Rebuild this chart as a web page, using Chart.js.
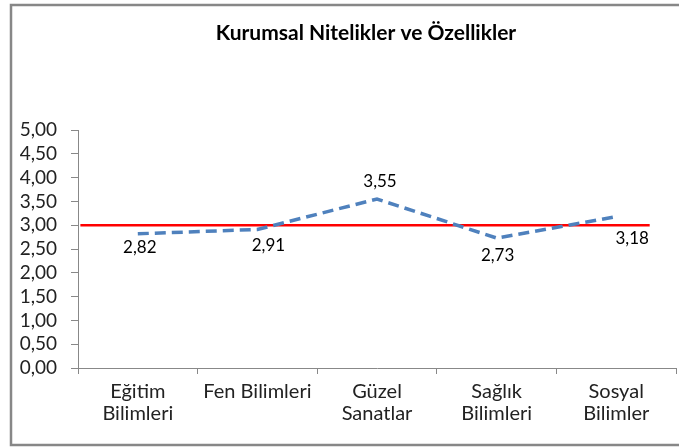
<!DOCTYPE html>
<html>
<head>
<meta charset="utf-8">
<script src="https://cdn.jsdelivr.net/npm/chart.js@4.4.1/dist/chart.umd.min.js"></script>
<style>
html, body { margin: 0; padding: 0; background: #fff; }
#wrap { width: 679px; height: 448px; }
</style>
</head>
<body>
<div id="wrap"><canvas id="myChart" width="679" height="448"></canvas></div>
<script>
// data
var categories = [["Eğitim", "Bilimleri"], "Fen Bilimleri", ["Güzel", "Sanatlar"], ["Sağlık", "Bilimleri"], ["Sosyal", "Bilimler"]];
var scores = [2.82, 2.91, 3.55, 2.73, 3.18];
var referenceLevel = 3.00;
var yTicks = [0, 0.5, 1, 1.5, 2, 2.5, 3, 3.5, 4, 4.5, 5];
var chartTitle = "Kurumsal Nitelikler ve Özellikler";

var FONT = "Lato, 'Open Sans', sans-serif";

function trNum(v) {
    return v.toFixed(2).replace('.', ',');
}

// frame + title
var framePlugin = {
    id: 'frame',
    beforeDraw: function(chart) {
        var ctx = chart.ctx;
        ctx.save();
        ctx.fillStyle = '#fff';
        ctx.fillRect(0, 0, chart.width, chart.height);
        ctx.strokeStyle = '#878787';
        ctx.lineWidth = 2.5;
        ctx.strokeRect(11, 5, chart.width + 20, chart.height - 8);
        ctx.fillStyle = '#000';
        ctx.font = 'bold 21px ' + FONT;
        ctx.textAlign = 'center';
        ctx.textBaseline = 'middle';
        ctx.fillText(chartTitle, 366, 33);
        ctx.restore();
    }
};

// red reference line at 3,00
var refLinePlugin = {
    id: 'refLine',
    beforeDatasetsDraw: function(chart) {
        var x = chart.scales.x, y = chart.scales.y;
        var yy = y.getPixelForValue(referenceLevel);
        var ctx = chart.ctx;
        ctx.save();
        ctx.strokeStyle = '#ff0000';
        ctx.lineWidth = 2.5;
        ctx.beginPath();
        ctx.moveTo(x.getPixelForValue(-0.48), yy);
        ctx.lineTo(x.getPixelForValue(4.28), yy);
        ctx.stroke();
        ctx.restore();
    }
};

// value labels next to the points
var labelShift = [[2, 14], [11, 16], [3, -18], [1, 17], [16, 22]];
var valueLabelPlugin = {
    id: 'valueLabels',
    afterDatasetsDraw: function(chart) {
        var ctx = chart.ctx;
        var meta = chart.getDatasetMeta(0);
        ctx.save();
        ctx.fillStyle = '#000';
        ctx.font = '17px ' + FONT;
        ctx.textAlign = 'center';
        ctx.textBaseline = 'middle';
        meta.data.forEach(function(pt, i) {
            ctx.fillText(trNum(scores[i]), pt.x + labelShift[i][0], pt.y + labelShift[i][1]);
        });
        ctx.restore();
    }
};

var ctx = document.getElementById('myChart').getContext('2d');
var chart = new Chart(ctx, {
    type: 'line',
    data: {
        labels: categories,
        datasets: [{
            label: 'Kurumsal',
            data: scores,
            borderColor: '#4f81bd',
            borderWidth: 3.5,
            borderDash: [11, 6],
            pointRadius: 0,
            tension: 0,
            fill: false
        }]
    },
    options: {
        responsive: false,
        animation: false,
        devicePixelRatio: 1,
        layout: { padding: { left: 12, top: 130, right: 3, bottom: 8 } },
        plugins: {
            legend: { display: false },
            title: { display: false },
            tooltip: { enabled: false }
        },
        scales: {
            x: {
                offset: true,
                grid: { display: true, drawOnChartArea: false, offset: true, color: '#888', tickLength: 6 },
                border: { color: '#888', width: 1 },
                ticks: { color: '#222', font: { family: FONT, size: 20, lineHeight: 1.1 }, padding: 7, maxRotation: 0, autoSkip: false },
                afterFit: function(s) { s.height = 72; }
            },
            y: {
                min: 0,
                max: 5,
                afterBuildTicks: function(s) { s.ticks = yTicks.map(function(v) { return { value: v }; }); },
                grid: { display: true, drawOnChartArea: false, color: '#888', tickLength: 7 },
                border: { color: '#888', width: 1 },
                ticks: { color: '#222', font: { family: FONT, size: 19, lineHeight: 1 }, padding: 14, autoSkip: false, callback: function(v) { return trNum(v); } },
                afterFit: function(s) { s.width = 66; }
            }
        }
    },
    plugins: [framePlugin, refLinePlugin, valueLabelPlugin]
});
</script>
</body>
</html>
